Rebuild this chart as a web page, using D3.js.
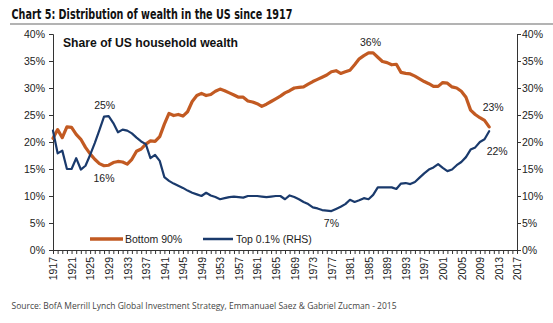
<!DOCTYPE html>
<html><head><meta charset="utf-8">
<script src="https://cdn.jsdelivr.net/npm/d3@7"></script>
<style>body{margin:0;background:#fff}svg{display:block}</style>
</head><body><svg id="c" width="553" height="323"></svg>
<script>
const startYear = 1917;
const bottom90 = [20.7,22.3,20.8,22.8,22.7,21.4,20.5,19.0,17.8,16.8,16.0,15.6,15.7,16.2,16.4,16.3,15.9,16.8,18.3,18.7,19.6,20.2,20.1,21.0,23.3,25.3,24.9,25.1,24.8,25.6,27.5,28.6,29.0,28.6,28.8,29.4,29.8,29.5,29.1,28.7,28.3,28.3,27.6,27.4,27.1,26.6,27.0,27.5,28.0,28.5,29.1,29.5,30.0,30.1,30.2,30.7,31.2,31.6,32.0,32.4,33.0,33.2,32.7,33.0,33.3,34.3,35.4,36.0,36.5,36.5,35.7,34.9,34.7,34.3,34.4,32.9,32.7,32.6,32.2,31.7,31.2,30.8,30.3,30.3,31.0,30.9,30.2,30.0,29.4,28.3,25.9,25.1,24.5,24.0,22.8];
const top01 = [22.1,17.9,18.4,15.0,15.0,17.0,14.9,15.6,17.6,19.8,22.2,24.7,24.8,23.5,21.8,22.3,22.1,21.6,20.8,20.1,19.6,17.0,17.6,16.5,13.5,12.8,12.3,11.9,11.5,11.0,10.6,10.3,10.0,10.6,10.1,9.8,9.4,9.6,9.8,9.9,9.8,9.7,10.0,10.0,10.0,9.9,9.8,9.9,10.0,10.0,9.4,10.1,9.8,9.4,8.9,8.5,7.9,7.7,7.4,7.3,7.2,7.6,8.0,8.5,9.3,8.9,9.2,9.6,9.4,10.2,11.6,11.6,11.6,11.6,11.3,12.3,12.4,12.2,12.6,13.4,14.2,14.9,15.3,15.9,15.2,14.6,14.9,15.7,16.3,17.2,18.6,19.0,20.0,20.5,22.0];
const yTicks = [0,5,10,15,20,25,30,35,40];
const xLabelYears = d3.range(1917, 2018, 4);
const title = "Chart 5: Distribution of wealth in the US since 1917";
const subtitle = "Share of US household wealth";
const source = "Source: BofA Merrill Lynch Global Investment Strategy, Emmanuael Saez & Gabriel Zucman - 2015";
const seriesNames = ["Bottom 90%", "Top 0.1% (RHS)"];
const annotations = [
  {s:0, year:1928, value:15.6, text:"16%", dx:0, dy:13},
  {s:1, year:1929, value:24.8, text:"25%", dx:-4, dy:-11},
  {s:0, year:1985, value:36.5, text:"36%", dx:2, dy:-11},
  {s:1, year:1977, value:7.2, text:"7%", dx:0, dy:12},
  {s:0, year:2011, value:22.8, text:"23%", dx:4, dy:-20},
  {s:1, year:2011, value:22.0, text:"22%", dx:8, dy:20}
];

const colors = ["#C25A22", "#1A3A6C"];
const svg = d3.select("#c");
const font = "'Liberation Sans', Arial, sans-serif";
const L = 53, R = 517, T = 34, B = 250;
const x = d3.scaleLinear().domain([1917, 2017]).range([L, R]);
const yL = d3.scaleLinear().domain([0, 40]).range([B, T]);
const yR = d3.scaleLinear().domain([0, 40]).range([B, T]);

// title
svg.append("text").attr("x", 11.5).attr("y", 19).text(title)
  .attr("font-family", "'Liberation Sans Narrow','DejaVu Sans Condensed',sans-serif")
  .attr("font-weight", "bold").attr("font-size", 13.5).attr("fill", "#111")
  .attr("textLength", 281).attr("lengthAdjust", "spacingAndGlyphs");
svg.append("line").attr("x1", 10).attr("x2", 553).attr("y1", 24).attr("y2", 24)
  .attr("stroke", "#9a9a9a").attr("stroke-width", 1.6);

// subtitle
svg.append("text").attr("x", 63).attr("y", 47).text(subtitle)
  .attr("font-family", font).attr("font-weight", "bold").attr("font-size", 12.5).attr("fill", "#111")
  .attr("textLength", 175).attr("lengthAdjust", "spacingAndGlyphs");

// axes
const styleAxis = g => {
  g.selectAll("path").attr("stroke", "#333");
  g.selectAll("line").attr("stroke", "#333");
  g.selectAll("text").attr("font-family", font).attr("font-size", 10.5).attr("fill", "#222");
};
svg.append("g").attr("transform", `translate(${L},0)`)
  .call(d3.axisLeft(yL).tickValues(yTicks).tickFormat(d => d + "%").tickSizeOuter(0).tickSize(4).tickPadding(4))
  .call(styleAxis);
svg.append("g").attr("transform", `translate(${R},0)`)
  .call(d3.axisRight(yR).tickValues(yTicks).tickFormat(d => d + "%").tickSizeOuter(0).tickSize(4).tickPadding(1))
  .call(styleAxis);
const xa = svg.append("g").attr("transform", `translate(0,${B})`)
  .call(d3.axisBottom(x).tickValues(d3.range(1917, 2018)).tickFormat(d => xLabelYears.includes(d) ? String(d) : "").tickSizeOuter(0).tickSize(4))
  .call(styleAxis);
xa.selectAll(".tick text").attr("transform", "rotate(-90)").attr("text-anchor", "end")
  .attr("x", -7).attr("y", 0).attr("dy", "0.36em");

// lines
const data = [bottom90, top01];
const scales = [yL, yR];
data.forEach((arr, i) => {
  const line = d3.line().x((d, j) => x(startYear + j)).y(d => scales[i](d)).curve(d3.curveLinear);
  svg.append("path").datum(arr).attr("d", line).attr("fill", "none")
    .attr("stroke", colors[i]).attr("stroke-width", i === 0 ? 3.2 : 2.2)
    .attr("stroke-linejoin", "round").attr("stroke-linecap", "round");
});

// annotations
annotations.forEach(a => {
  svg.append("text").attr("x", x(a.year) + a.dx).attr("y", scales[a.s](a.value) + a.dy)
    .attr("dy", "0.35em").attr("text-anchor", "middle").text(a.text)
    .attr("font-family", font).attr("font-size", 10.5).attr("fill", "#222");
});

// legend
const legend = [{x1: 90, x2: 123, tx: 125}, {x1: 203, x2: 233, tx: 236}];
legend.forEach((lg, i) => {
  svg.append("line").attr("x1", lg.x1).attr("x2", lg.x2).attr("y1", 239).attr("y2", 239)
    .attr("stroke", colors[i]).attr("stroke-width", i === 0 ? 3.5 : 2.5);
  svg.append("text").attr("x", lg.tx).attr("y", 239).attr("dy", "0.35em").text(seriesNames[i])
    .attr("font-family", font).attr("font-size", 10.5).attr("fill", "#222");
});

// source
svg.append("text").attr("x", 11.5).attr("y", 309).text(source)
  .attr("font-family", "'Open Sans', sans-serif").attr("font-size", 9.5).attr("fill", "#444")
  .attr("textLength", 385).attr("lengthAdjust", "spacingAndGlyphs");
</script></body></html>
